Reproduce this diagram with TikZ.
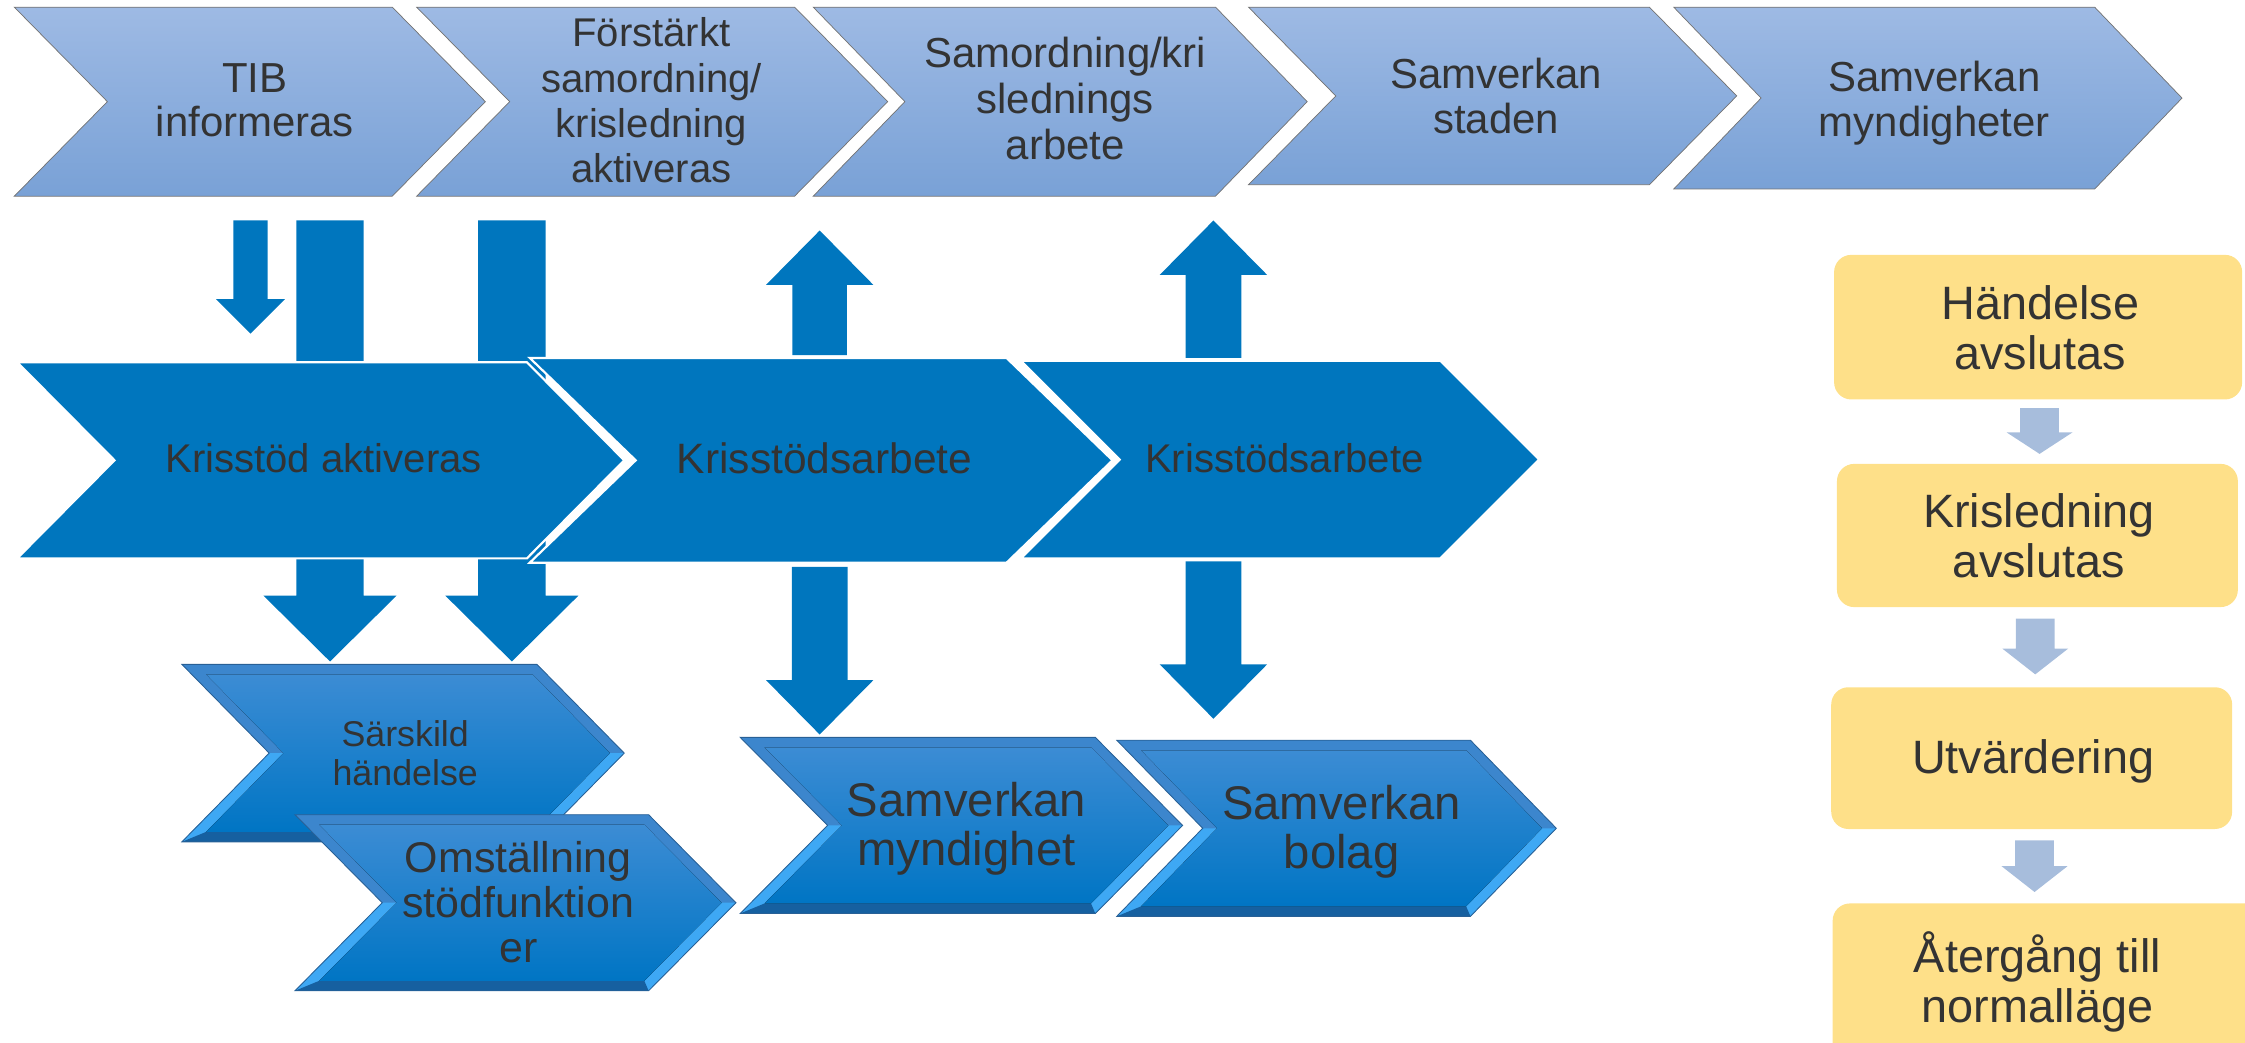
\documentclass[tikz,border=0pt]{standalone}
\usepackage{fontspec}
\setmainfont{Liberation Sans}
\definecolor{textgray}{RGB}{51,51,51}
\definecolor{krblue}{RGB}{0,118,190}
\definecolor{topblue}{RGB}{158,186,228}
\definecolor{botblue}{RGB}{121,161,214}
\definecolor{bevtop}{RGB}{60,134,205}
\definecolor{bevlight}{RGB}{62,168,244}
\definecolor{bevdark}{RGB}{22,96,160}
\definecolor{intop}{RGB}{60,140,212}
\definecolor{inbot}{RGB}{0,117,196}
\definecolor{bevline}{RGB}{40,96,150}
\definecolor{boxyellow}{RGB}{254,224,137}
\definecolor{arrowgray}{RGB}{167,189,220}

\begin{document}
\begin{tikzpicture}[x=1pt,y=-1pt,
  topchev/.style={top color=topblue,bottom color=botblue,draw=black!55,line width=0.5pt},
  midchev/.style={fill=krblue,draw=white,line width=1.5pt},
  bevelin/.style={top color=intop,bottom color=inbot},
  yellowbox/.style={fill=boxyellow,rounded corners=12pt},
  txt/.style={text=textgray,align=center,inner sep=0pt},
  toptext/.style={txt,font=\fontsize{29.3}{31}\selectfont},
  midtext/.style={txt,font=\fontsize{28}{31}\selectfont},
  boxtext/.style={txt,font=\fontsize{32.7}{35}\selectfont}]
\useasboundingbox (0,0) rectangle (1568,728);
\clip (0,0) rectangle (1568,728);

% top row
\foreach \l/\t/\r/\b/\d in {10/5/274/137/65,291/5/555/137/65,568/5/849/137/64,872/5/1152/129/61,1169/5/1463/132/61}
  \draw[topchev] (\l,\t) -- (\r,\t) -- (\r+\d,{(\t+\b)/2}) -- (\r,\b) -- (\l,\b) -- (\l+\d,{(\t+\b)/2}) -- cycle;

% block arrows: x / tail / tip / shaft / head / head length
\foreach \x/\a/\b/\s/\h/\n in {175/154/233/12/24/24,230.5/154/462/23.5/46.5/46,357.5/154/462/23.5/46.5/46,
    572.5/248/161/19/37.5/-38,847.5/250/154/19.5/37.5/-38,572.5/396/513/19.5/37.5/38,847.5/392/502/19.5/37.5/38}
  \fill[krblue] (\x-\s,\a) -- (\x+\s,\a) -- (\x+\s,{\b-(\n)}) -- (\x+\h,{\b-(\n)}) -- (\x,\b)
    -- (\x-\h,{\b-(\n)}) -- (\x-\s,{\b-(\n)}) -- cycle;

% middle row
\foreach \l/\t/\r/\b/\d in {12/253/368/390/68,370/250/703/393/74,713/252/1006/390/69}
  \draw[midchev] (\l,\t) -- (\r,\t) -- (\r+\d,{(\t+\b)/2}) -- (\r,\b) -- (\l,\b) -- (\l+\d,{(\t+\b)/2}) -- cycle;

% lower row, bevelled
\foreach \l/\t/\r/\b/\d in {127/464/375/588/61,206/569/453/692/61,517/515/765/638/61,780/517/1027/640/60} {
  \fill[bevtop] (\l,\t) -- (\r,\t) -- (\r+\d,{(\t+\b)/2}) -- (\r,\b) -- (\l,\b) -- (\l+\d,{(\t+\b)/2}) -- cycle;
  \fill[bevlight] (\l+\d,{(\t+\b)/2}) -- (\r+\d,{(\t+\b)/2}) -- (\r,\b) -- (\l,\b) -- cycle;
  \fill[bevdark] (\l,\b) -- (\r,\b) -- (\r-3,\b-7) -- (\l+17,\b-7) -- cycle;
  \fill[bevelin] (\l+17,\t+7) -- (\r-3,\t+7) -- (\r+\d-10,{(\t+\b)/2}) -- (\r-3,\b-7) -- (\l+17,\b-7)
    -- (\l+\d+10,{(\t+\b)/2}) -- cycle;
  \draw[bevline,line width=0.6pt] (\l,\t) -- (\r,\t) -- (\r+\d,{(\t+\b)/2}) -- (\r,\b) -- (\l,\b) -- (\l+\d,{(\t+\b)/2}) -- cycle;
}

% right column
\fill[yellowbox] (1281,178) rectangle (1566,279);
\fill[yellowbox] (1283,324) rectangle (1563,424);
\fill[yellowbox] (1279,480) rectangle (1559,579);
\fill[yellowbox] (1280,631) rectangle (1580,745);
\foreach \x/\a/\b/\n in {1424.5/285/317/15,1421.5/432/471/18,1421/587/623/18}
  \fill[arrowgray] (\x-13.5,\a) -- (\x+13.5,\a) -- (\x+13.5,\b-\n) -- (\x+23,\b-\n) -- (\x,\b)
    -- (\x-23,\b-\n) -- (\x-13.5,\b-\n) -- cycle;

% texts
\node[toptext] (tib) at (178,70) {TIB\\informeras};
\node[toptext,font=\fontsize{28}{31.5}\selectfont] (forst) at (455,70) {Förstärkt\\samordning/\\krisledning\\aktiveras};
\node[toptext,font=\fontsize{29.3}{32}\selectfont] (samkris) at (744,69) {Samordning/kri\\slednings\\arbete};
\node[toptext] (samstad) at (1045,67) {Samverkan\\staden};
\node[toptext] (sammynd) at (1351,72) {Samverkan\\myndigheter};

\node[midtext] (kaktiv) at (226,320) {Krisstöd aktiveras};
\node[midtext,font=\fontsize{29.7}{31}\selectfont] (karb1) at (576,320) {Krisstödsarbete};
\node[midtext] (karb2) at (897,320) {Krisstödsarbete};

\node[txt,font=\fontsize{25}{27}\selectfont] (sarsk) at (283,526) {Särskild\\händelse};
\node[txt,font=\fontsize{30}{31.5}\selectfont] (omst) at (362,630) {Omställning\\stödfunktion\\er};
\node[txt,font=\fontsize{33}{34}\selectfont] (smynd) at (675,579) {Samverkan\\myndighet};
\node[txt,font=\fontsize{33}{34}\selectfont] (sbolag) at (937,581) {Samverkan\\bolag};

\node[boxtext] (havsl) at (1425,229) {Händelse\\avslutas};
\node[boxtext] (kavsl) at (1424,374) {Krisledning\\avslutas};
\node[boxtext] (utv) at (1420,532) {Utvärdering};
\node[boxtext] (ater) at (1423,686) {Återgång till\\normalläge};
\end{tikzpicture}
\end{document}
